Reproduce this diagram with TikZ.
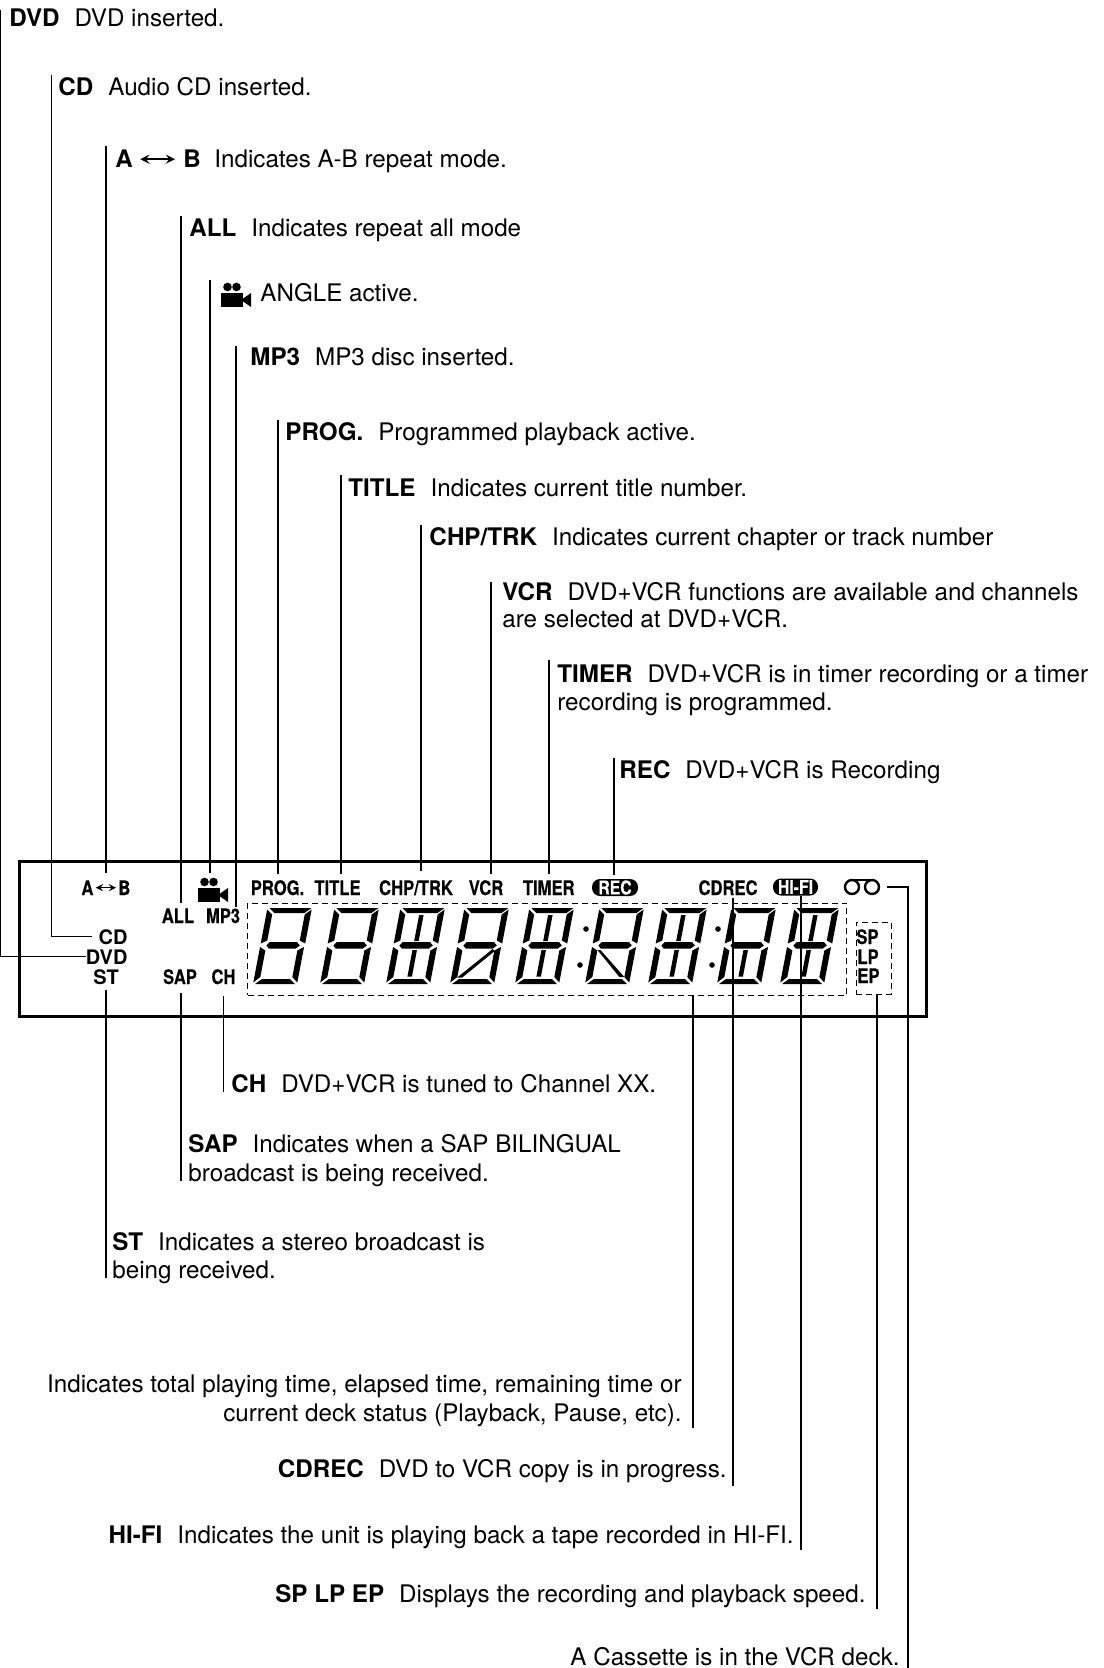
\documentclass[tikz,border=0pt]{standalone}
\usepackage{fontspec}
\setmainfont{TeX Gyre Heros}
\newfontfamily\lcdfont[FakeStretch=0.83,BoldFeatures={FakeBold=0.25}]{TeX Gyre Heros}
\usetikzlibrary{arrows}

\tikzset{
  txt/.style={anchor=base west, inner sep=0pt, font=\fontsize{12.1}{14}\selectfont},
  txtr/.style={txt, anchor=base east},
  lcd/.style={anchor=base, inner sep=0pt, font=\fontsize{10}{12}\selectfont\lcdfont\bfseries},
  lcdwide/.style={lcd, font=\fontsize{10}{12}\selectfont\bfseries},
  pill/.style={fill=black, text=white, rounded corners=4pt, inner sep=0pt, minimum height=8.5pt,
    font=\fontsize{9.5}{10}\selectfont\lcdfont\bfseries},
  dashbox/.style={draw, densely dashed, line width=0.5pt, inner sep=0pt},
  leader/.style={line width=0.6pt},
  seg/.style={fill=black},
  camera/.pic={
    \fill (0,0) rectangle (22,-14);
    \fill (6.5,-20) circle (4.3);
    \fill (15.5,-20) circle (4.3);
    \fill (20,-7) -- (30,-14) -- (30,0) -- cycle;
  }
}

% one slanted display digit, #1 left edge, #2 which inner segments are lit
\newcommand{\lcddigit}[2]{
  \begin{scope}[shift={(#1,984)},xslant=0.19]
    \fill[seg] (2,-76) -- (44,-76) -- (38,-71) -- (8,-71) -- cycle;
    \fill[seg] (2,0) -- (42,0) -- (36,-5) -- (8,-5) -- cycle;
    \fill[seg] (6,-38.5) -- (9,-42) -- (36,-42) -- (39.5,-38.5) -- (36,-35.5) -- (9,-35.5) -- cycle;
    \fill[seg] (0,-40.5) -- (6,-43.5) -- (6,-69.5) -- (0,-74.5) -- cycle;
    \fill[seg] (0,-1.5) -- (6,-7) -- (6,-33.5) -- (0,-37) -- cycle;
    \fill[seg] (44.5,-40.5) -- (38.5,-43.5) -- (38.5,-69.5) -- (44.5,-74.5) -- cycle;
    \fill[seg] (44,-1.5) -- (38,-7) -- (38,-33.5) -- (44,-37) -- cycle;
    \ifcase#2
    \or
      \fill[seg] (20,-43) rectangle (24.5,-69);
      \fill[seg] (20,-7.5) rectangle (24.5,-34);
    \or
      \fill[seg] (6,-6.5) -- (11,-6.5) -- (38.5,-33) -- (36,-35) -- cycle;
    \or
      \fill[seg] (6,-34) -- (9,-34) -- (38,-7) -- (33,-7) -- cycle;
    \or
      \fill[seg] (20,-7.5) rectangle (24.5,-34);
    \fi
  \end{scope}
}

\begin{document}
\begin{tikzpicture}[x=0.5pt,y=-0.5pt,>=stealth]
\useasboundingbox (0,0) rectangle (1103,1668);

% Display panel
\node[draw, line width=1.5pt, inner sep=0pt, minimum width=453.5pt, minimum height=77.5pt] (panel) at (472.5,938.5) {};
\node[dashbox, minimum width=299.5pt, minimum height=46pt] (timebox) at (547.2,949) {};
\node[dashbox, minimum width=17.5pt, minimum height=36pt] (spbox) at (873.5,958) {};

% Digits and colons
\foreach \x/\kind in {253/0,320/0,386/1,450/2,515/1,585/3,648/1,717/4,780/1} {
  \lcddigit{\x}{\kind}
}
\foreach \x/\y in {586/929,580/965,718/929,712/965} {
  \fill (\x,\y) circle (2.8);
}

% Labels on the display, top row
\node[lcd, anchor=base west] (ablcda) at (81,895) {A};
\node[lcd, anchor=base west] (ablcdb) at (118,895) {B};
\node[lcd] (proglcd) at (277.5,895) {PROG.};
\node[lcd] (titlelcd) at (337.5,895) {TITLE};
\node[lcd] (chplcd) at (416,895) {CHP/TRK};
\node[lcd] (vcrlcd) at (486,895) {VCR};
\node[lcd] (timerlcd) at (548.7,895) {TIMER};
\node[lcd] (cdreclcd) at (728,895) {CDREC};
\node[pill, minimum width=23pt] (reclcd) at (615,887.5) {REC};
\node[pill, minimum width=22.5pt] (hifilcd) at (795.5,887) {HI-FI};
\pic at (198,902) {camera};
\coordinate (camlcd) at (210,878);
\draw[<->, leader] (ablcda.east) ++(2,0) -- ([xshift=-1pt]ablcdb.west);

% Tape symbol
\node[inner sep=0pt, minimum width=25pt, minimum height=8pt] (tapelcd) at (862,887) {};
\draw[line width=1.2pt] (852,887) circle (7);
\draw[line width=1.2pt] (872,887) circle (7);
\draw[line width=1.2pt] (852,880) -- (872,880);

% Labels on the display, left and speed
\node[lcd] (alllcd) at (178,923) {ALL};
\node[lcd] (mp3lcd) at (223,923) {MP3};
\node[lcdwide] (cdlcd) at (113,944) {CD};
\node[lcdwide] (dvdlcd) at (106.7,964) {DVD};
\node[lcdwide] (stlcd) at (106,984) {ST};
\node[lcd] (saplcd) at (180,984) {SAP};
\node[lcd] (chlcd) at (223.5,984) {CH};
\node[lcd, anchor=base west] (splcd) at (856,944) {SP};
\node[lcd, anchor=base west] (lplcd) at (857,964) {LP};
\node[lcd, anchor=base west] (eplcd) at (857,983) {EP};

% Texts above the display
\node[txt] (dvdtxt) at (9,27) {\textbf{DVD}\hspace{7.5pt}DVD inserted.};
\node[txt] (cdtxt) at (58,96) {\textbf{CD}\hspace{7.5pt}Audio CD inserted.};
\node[txt] (abtxta) at (115,168) {\textbf{A}};
\node[txt] (abtxtb) at (183,168) {\textbf{B}};
\node[txt] (abtxt) at (214,168) {Indicates A-B repeat mode.};
\draw[<->, line width=1pt] (abtxta.east) ++(7,0) -- ([xshift=-4pt]abtxtb.west);
\node[txt] (alltxt) at (189,237) {\textbf{ALL}\hspace{7.5pt}Indicates repeat all mode};
\pic at (221,307) {camera};
\node[txt] (camtxt) at (260,302) {ANGLE active.};
\node[txt] (mp3txt) at (250,366) {\textbf{MP3}\hspace{7.5pt}MP3 disc inserted.};
\node[txt] (progtxt) at (285,441) {\textbf{PROG.}\hspace{7.5pt}Programmed playback active.};
\node[txt] (titletxt) at (348,496) {\textbf{TITLE}\hspace{7.5pt}Indicates current title number.};
\node[txt] (chptxt) at (429,545) {\textbf{CHP/TRK}\hspace{7.5pt}Indicates current chapter or track number};
\node[txt] (vcrtxt) at (502,600) {\textbf{VCR}\hspace{7.5pt}DVD+VCR functions are available and channels};
\node[txt] (vcrtxtb) at (502,627) {are selected at DVD+VCR.};
\node[txt] (timertxt) at (557,682) {\textbf{TIMER}\hspace{7.5pt}DVD+VCR is in timer recording or a timer};
\node[txt] (timertxtb) at (557,710) {recording is programmed.};
\node[txt] (rectxt) at (619,778) {\textbf{REC}\hspace{7.5pt}DVD+VCR is Recording};

% Texts below the display
\node[txt] (chtxt) at (231,1092) {\textbf{CH}\hspace{7.5pt}DVD+VCR is tuned to Channel XX.};
\node[txt] (saptxt) at (188,1152) {\textbf{SAP}\hspace{7.5pt}Indicates when a SAP BILINGUAL};
\node[txt] (saptxtb) at (188,1181) {broadcast is being received.};
\node[txt] (sttxt) at (112,1250) {\textbf{ST}\hspace{7.5pt}Indicates a stereo broadcast is};
\node[txt] (sttxtb) at (112,1278) {being received.};
\node[txtr] (timetxt) at (682,1392) {Indicates total playing time, elapsed time, remaining time or};
\node[txtr] (timetxtb) at (682,1421) {current deck status (Playback, Pause, etc).};
\node[txtr] (cdrectxt) at (727,1477) {\textbf{CDREC}\hspace{7.5pt}DVD to VCR copy is in progress.};
\node[txtr] (hifitxt) at (794,1543) {\textbf{HI-FI}\hspace{7.5pt}Indicates the unit is playing back a tape recorded in HI-FI.};
\node[txtr] (sptxt) at (866,1602) {\textbf{SP LP EP}\hspace{7.5pt}Displays the recording and playback speed.};
\node[txtr] (tapetxt) at (900,1665) {A Cassette is in the VCR deck.};

% Free ends of the leaders
\foreach \name/\x/\y in {dvdtop/0/10, cdtop/51.5/75, abtop/106/146, alltop/181/216, camtop/210/280,
  mp3top/236/346, progtop/278/420, titletop/341/475, chptop/421/525, vcrtop/491/582,
  timertop/549/660, rectop/614/758,
  chend/223.5/1092, sapend/181/1181, stend/106/1278, timeend/693/1428, cdrecend/733/1486,
  hifiend/801/1550, spend/877/1609, tapeend/908/1668} {
  \coordinate (\name) at (\x,\y);
}

% Leaders down from the upper texts
\foreach \top/\lbl/\gap in {abtop/ablcda/3.7, alltop/alllcd/2.7, camtop/camlcd/2.5, mp3top/mp3lcd/0.7,
  progtop/proglcd/2.7, titletop/titlelcd/3.2, chptop/chplcd/4.2, vcrtop/vcrlcd/2.7,
  timertop/timerlcd/3.2, rectop/reclcd/2} {
  \draw[leader, shorten >=\gap pt] (\top) -- (\top |- \lbl.north);
}
\draw[leader] (cdtop) |- ([xshift=-3pt]cdlcd.west);
\draw[leader] (dvdtop) |- (dvdlcd.west);

% Leaders down to the lower texts
\foreach \bot/\lbl/\gap in {chend/chlcd/5.5, sapend/saplcd/4, stend/stlcd/2.5,
  cdrecend/cdreclcd/1, hifiend/hifilcd/0} {
  \draw[leader, shorten <=\gap pt] (\bot |- \lbl.south) -- (\bot);
}
\draw[leader] (timeend |- timebox.south) -- (timeend);
\draw[leader] (spend |- spbox.south) -- (spend);
\draw[leader] (tapelcd.east) -| (tapeend);

\end{tikzpicture}
\end{document}
